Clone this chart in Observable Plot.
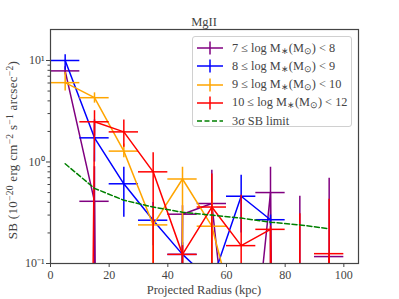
<!DOCTYPE html>
<html><head><meta charset="utf-8">
<script src="https://cdn.jsdelivr.net/npm/d3@7"></script>
<script src="https://cdn.jsdelivr.net/npm/@observablehq/plot@0.6"></script>
<style>
body{margin:0;background:#fff;}
#wrap{position:relative;width:399px;height:299px;font-family:"Liberation Serif",serif;color:#444;overflow:hidden;}
#wrap > svg{position:absolute;left:0;top:0;}
.lbl{position:absolute;white-space:nowrap;font-size:12.5px;line-height:1;}
.lbl sup{font-size:9px;vertical-align:0;position:relative;top:-4.5px;}
.ylab{font-size:13px;letter-spacing:0.3px;}
.ylab sup{font-size:9.5px;}
#legend{position:absolute;left:192px;top:36px;width:160px;height:91px;border:1px solid #d0d0d0;border-radius:3px;background:rgba(255,255,255,0.85);box-sizing:border-box;}
.row{position:absolute;left:3px;height:14px;display:flex;align-items:center;font-size:12.3px;white-space:nowrap;}
#wrap .row svg{position:static;margin-right:9px;flex:none;}
.row sub{font-size:8.5px;vertical-align:0;position:relative;top:2px;}
</style></head><body><div id="wrap"></div>
<script>
// ---- data ----
const radius = [5, 15, 25, 35, 45, 55, 65, 75, 85, 95];       // kpc
const binHalf = 5;                                               // x error (kpc)
const NEG = 1e-30;   // non-positive measurement (clipped on log axis)
const BOT = 1e-3;    // error bar extending below the axis

const seriesNames = ["7–8", "8–9", "9–10", "10–12"];
const seriesColors = ["#800080", "#0000ff", "#ffa500", "#ff0000"];

const purpleVal = [7.9, 0.41, NEG, NEG, 0.306, 0.39, 0.0008, 0.50, NEG, 0.117];
const purpleLo  = [7.2, BOT, null, null, BOT, BOT, null, BOT, BOT, BOT];
const purpleHi  = [8.7, 0.9, null, null, 0.37, 0.83, null, 0.89, 0.46, 0.69];

const blueVal = [10.0, 1.73, 0.61, 0.267, 0.123, 0.066, 0.46, 0.27, NaN, NaN];
const blueLo  = [8.0, 1.0, 0.285, 0.15, 0.08, null, 0.2, 0.24, null, null];
const blueHi  = [11.4, 2.6, 0.89, 0.40, 0.16, null, 0.74, 0.30, null, null];

const orangeVal = [6.05, 4.3, 1.28, 0.24, 0.68, 0.233, 0.018, NaN, NaN, NaN];
const orangeLo  = [5.0, 3.8, 1.1, BOT, BOT, BOT, null, null, null, null];
const orangeHi  = [7.6, 4.8, 1.5, 0.35, 0.89, 0.5, null, null, null, null];

const redVal = [NEG, 2.49, 1.98, 0.80, 0.123, 0.36, 0.15, 0.217, NEG, 0.125];
const redLo  = [null, 1.8, 1.4, BOT, 0.1, BOT, BOT, BOT, BOT, BOT];
const redHi  = [null, 3.2, 2.6, 1.23, 0.15, 0.76, 0.47, 0.23, 0.31, 0.43];

const limitVal = [0.96, 0.55, 0.42, 0.36, 0.32, 0.30, 0.28, 0.255, 0.24, 0.22];

const xTicks = [0, 20, 40, 60, 80, 100];
const yMajor = [0.1, 1, 10];
const yMajorLabels = ["10⁻¹", "10⁰", "10¹"];
const yMinor = [0.2,0.3,0.4,0.5,0.6,0.7,0.8,0.9,2,3,4,5,6,7,8,9];

// ---- build rows ----
const allVals = [purpleVal, blueVal, orangeVal, redVal];
const allLo = [purpleLo, blueLo, orangeLo, redLo];
const allHi = [purpleHi, blueHi, orangeHi, redHi];
const series = seriesNames.map((name, i) => radius.map((r, j) => ({
  r, v: allVals[i][j], lo: allLo[i][j], hi: allHi[i][j], s: name
})));
const limit = radius.map((r, j) => ({r, v: limitVal[j]}));

const marks = [];
series.forEach((rows, i) => {
  const c = seriesColors[i];
  const pts = rows.filter(d => !isNaN(d.v));
  marks.push(Plot.line(pts, {x: "r", y: "v", stroke: c, strokeWidth: 1.5, clip: true}));
  marks.push(Plot.ruleX(rows.filter(d => d.lo != null), {x: "r", y1: "lo", y2: "hi", stroke: c, strokeWidth: 1.5, clip: true}));
  marks.push(Plot.ruleY(pts, {y: "v", x1: d => d.r - binHalf, x2: d => d.r + binHalf, stroke: c, strokeWidth: 1.5, clip: true}));
});
marks.push(Plot.line(limit, {x: "r", y: "v", stroke: "#008000", strokeWidth: 1.5, strokeDasharray: "5,2.5", clip: true}));
marks.push(Plot.frame({stroke: "#444", strokeWidth: 1.2}));
marks.push(Plot.axisX({ticks: xTicks, tickSize: 4, tickPadding: 3, label: null, tickFormat: d => String(d), stroke: "#444"}));
marks.push(Plot.axisY({ticks: yMajor, tickSize: 4, tickPadding: 2, label: null, tickFormat: d => yMajorLabels[yMajor.indexOf(d)], stroke: "#444"}));
marks.push(Plot.axisY({ticks: yMinor, tickSize: 2.5, label: null, tickFormat: () => "", stroke: "#444"}));

const chart = Plot.plot({
  width: 399, height: 299,
  marginLeft: 50, marginRight: 41, marginTop: 29, marginBottom: 36,
  x: {domain: [0, 105]},
  y: {type: "log", domain: [0.1, 20.2]},
  style: {fontFamily: '"Liberation Serif",serif', fontSize: "12px", color: "#444", background: "transparent"},
  marks
});

const wrap = document.getElementById("wrap");
wrap.appendChild(chart);

function addLabel(html, x, y, rot) {
  const d = document.createElement("div");
  d.className = "lbl" + (rot ? " ylab" : "");
  d.innerHTML = html;
  d.style.left = x + "px";
  d.style.top = y + "px";
  d.style.transform = "translate(-50%,-50%)" + (rot ? " rotate(-90deg)" : "");
  wrap.appendChild(d);
}
addLabel("MgII", 204, 22);
addLabel("Projected Radius (kpc)", 204, 290);
addLabel("SB (10<sup>−20</sup> erg cm<sup>−2</sup> s<sup>−1</sup> arcsec<sup>−2</sup>)", 13, 150, true);

// legend
const legendTexts = [
  "7 ≤ log M<sub>∗</sub>(M<sub>⊙</sub>) &lt; 8",
  "8 ≤ log M<sub>∗</sub>(M<sub>⊙</sub>) &lt; 9",
  "9 ≤ log M<sub>∗</sub>(M<sub>⊙</sub>) &lt; 10",
  "10 ≤ log M<sub>∗</sub>(M<sub>⊙</sub>) &lt; 12",
  "3σ SB limit"
];
const lg = document.createElement("div");
lg.id = "legend";
legendTexts.forEach((t, i) => {
  const row = document.createElement("div");
  row.className = "row";
  row.style.top = (4 + i * 18.3) + "px";
  let icon;
  if (i < 4) {
    const c = seriesColors[i];
    icon = `<svg width="27" height="14"><line x1="1" y1="7" x2="27" y2="7" stroke="${c}" stroke-width="1.5"/><line x1="14" y1="0.5" x2="14" y2="13.5" stroke="${c}" stroke-width="1.5"/></svg>`;
  } else {
    icon = `<svg width="27" height="14"><line x1="1" y1="7" x2="27" y2="7" stroke="#008000" stroke-width="1.5" stroke-dasharray="5,2.5"/></svg>`;
  }
  row.innerHTML = icon + "<span>" + t + "</span>";
  lg.appendChild(row);
});
wrap.appendChild(lg);
</script>
</body></html>
